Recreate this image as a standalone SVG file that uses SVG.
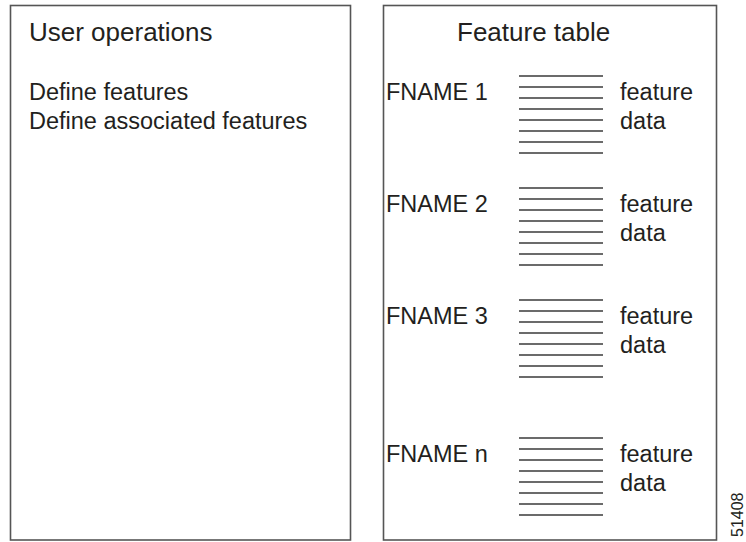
<svg xmlns="http://www.w3.org/2000/svg" width="746" height="542" viewBox="0 0 746 542">
<style>
.box{fill:#fff;stroke:#555;stroke-width:1.6}
.t{font-family:"Liberation Sans",Arial,sans-serif;fill:#231f20}
.title{font-size:26px}
.body{font-size:23.5px}
.ln{stroke:#3a3a3a;stroke-width:1.4}
</style>
<defs>
<g id="stack">
<line class="ln" x1="519" y1="76" x2="603" y2="76"/>
<line class="ln" x1="519" y1="87" x2="603" y2="87"/>
<line class="ln" x1="519" y1="98" x2="603" y2="98"/>
<line class="ln" x1="519" y1="109" x2="603" y2="109"/>
<line class="ln" x1="519" y1="120" x2="603" y2="120"/>
<line class="ln" x1="519" y1="131" x2="603" y2="131"/>
<line class="ln" x1="519" y1="142" x2="603" y2="142"/>
<line class="ln" x1="519" y1="153" x2="603" y2="153"/>
</g>
</defs>
<rect width="746" height="542" fill="#fff"/>
<g id="user-operations">
<rect class="box" x="10.5" y="5.5" width="340" height="534.5"/>
<text class="t title" x="29" y="41">User operations</text>
<text class="t body" x="29" y="99.5">Define features</text>
<text class="t body" x="29" y="129">Define associated features</text>
</g>
<g id="feature-table">
<rect class="box" x="383.5" y="5.5" width="333" height="534.5"/>
<text class="t title" x="457" y="41">Feature table</text>
</g>
<g id="fname-1">
<text class="t body" x="386" y="99.5">FNAME 1</text>
<use href="#stack"/>
<text class="t body" x="620" y="99.5">feature</text>
<text class="t body" x="620" y="129">data</text>
</g>
<g id="fname-2" transform="translate(0,112)">
<text class="t body" x="386" y="99.5">FNAME 2</text>
<use href="#stack"/>
<text class="t body" x="620" y="99.5">feature</text>
<text class="t body" x="620" y="129">data</text>
</g>
<g id="fname-3" transform="translate(0,224)">
<text class="t body" x="386" y="99.5">FNAME 3</text>
<use href="#stack"/>
<text class="t body" x="620" y="99.5">feature</text>
<text class="t body" x="620" y="129">data</text>
</g>
<g id="fname-n" transform="translate(0,362)">
<text class="t body" x="386" y="99.5">FNAME n</text>
<use href="#stack"/>
<text class="t body" x="620" y="99.5">feature</text>
<text class="t body" x="620" y="129">data</text>
</g>
<g id="connectors"/>
<text class="t" font-size="16" transform="translate(743,537) rotate(-90)">51408</text>
</svg>
